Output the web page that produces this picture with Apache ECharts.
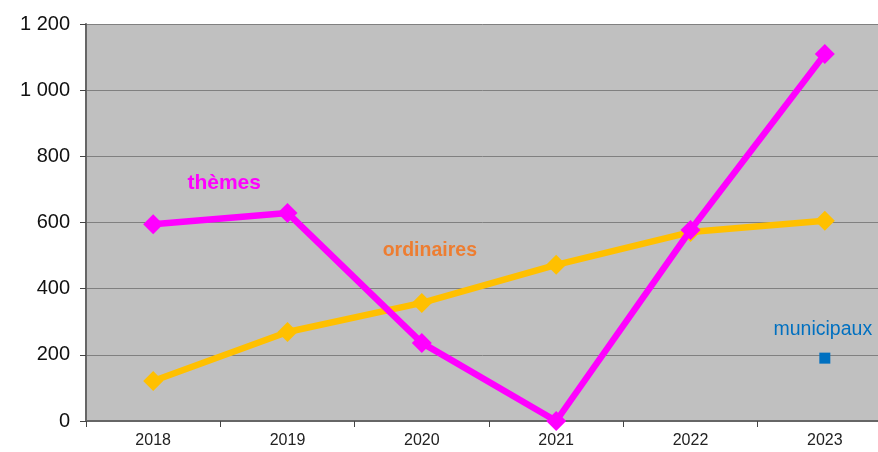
<!DOCTYPE html>
<html><head><meta charset="utf-8">
<script src="https://cdn.jsdelivr.net/npm/echarts@6/dist/echarts.min.js"></script>
<style>html,body{margin:0;padding:0;background:#fff}#c{width:878px;height:452px}</style>
</head><body><div id="c"></div>
<script>
const years = ['2018','2019','2020','2021','2022','2023'];
const themes = [595, 629, 236, 0, 577, 1109];
const ordinaires = [121, 269, 357, 472, 571, 605];
const municipaux = [null, null, null, null, null, 190];
const yTicks = [0, 200, 400, 600, 800, 1000, 1200];

const chart = echarts.init(document.getElementById('c'));
const fmt = v => String(v).replace(/\B(?=(\d{3})+(?!\d))/g, ' ');
chart.setOption({
  animation: false,
  grid: {left: 86, top: 24, width: 806, height: 397, outerBoundsMode: 'none', containLabel: false, show: true, backgroundColor: '#c0c0c0', borderWidth: 0},
  xAxis: {
    type: 'category', data: years, boundaryGap: true,
    axisLine: {lineStyle: {color: '#666', width: 2}},
    axisTick: {show: true, length: 6, lineStyle: {color: '#444', width: 1}},
    axisLabel: {color: '#222', fontFamily: 'Liberation Sans', fontSize: 16, margin: 12}
  },
  yAxis: {
    type: 'value', min: yTicks[0], max: yTicks[yTicks.length-1], interval: 200,
    axisLine: {show: true, lineStyle: {color: '#666', width: 2}},
    axisTick: {show: true, length: 6, lineStyle: {color: '#444'}},
    splitLine: {lineStyle: {color: '#808080', width: 1}},
    axisLabel: {color: '#111', fontFamily: 'Liberation Sans', fontSize: 20, margin: 16, formatter: fmt}
  },
  series: [
    {
      name: 'ordinaires', type: 'line', data: ordinaires.map((v,i)=> i===2 ? {value: v, label: {show: true, formatter: 'ordinaires', offset: [8,-52], position: 'inside', color: '#ED7D31', fontWeight: 'bold', fontSize: 19.5, fontFamily: 'Liberation Sans'}} : v),
      lineStyle: {color: '#FFC000', width: 6.5}, itemStyle: {color: '#FFC000'},
      symbol: 'diamond', symbolSize: 20, z: 2
    },
    {
      name: 'thèmes', type: 'line', data: themes.map((v,i)=> i===0 ? {value: v, label: {show: true, formatter: 'thèmes', offset: [71,-41], position: 'inside', color: '#FF00FF', fontWeight: 'bold', fontSize: 21, fontFamily: 'Liberation Sans'}} : v),
      lineStyle: {color: '#FF00FF', width: 6.5}, itemStyle: {color: '#FF00FF'},
      symbol: 'diamond', symbolSize: 20, z: 3
    },
    {
      name: 'municipaux', type: 'line', data: municipaux.map((v,i)=> v!==null ? {value: v, label: {show: true, formatter: 'municipaux', offset: [-2,-29], position: 'inside', color: '#0070C0', fontSize: 19.5, fontFamily: 'Liberation Sans'}} : v),
      lineStyle: {color: '#0070C0', width: 0}, itemStyle: {color: '#0070C0'},
      symbol: 'rect', symbolSize: 11, showAllSymbol: true, z: 4
    }
  ]
});
</script></body></html>
